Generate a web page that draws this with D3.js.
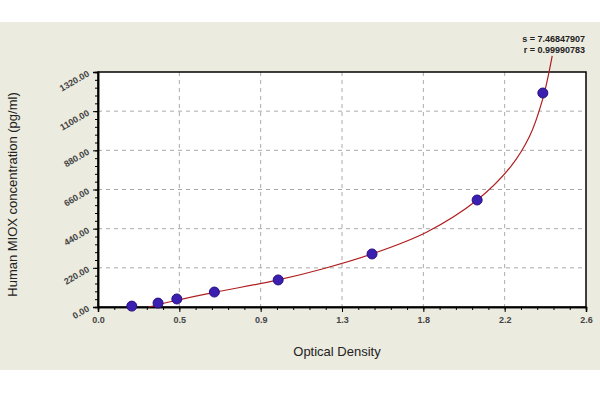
<!DOCTYPE html>
<html><head><meta charset="utf-8">
<script src="https://cdn.jsdelivr.net/npm/d3@7"></script>
<style>body{margin:0;background:#fff}</style>
</head><body>
<div id="chart"></div>
<script>
// Measured standard points (OD, pg/ml)
const od = [0.18, 0.32, 0.42, 0.62, 0.96, 1.46, 2.02, 2.37];
const conc = [5, 22, 45, 84, 152, 298, 601, 1202];
// Fitted curve
const curveOd = [0.27, 0.42, 0.62, 0.96, 1.2, 1.46, 1.75, 2.02, 2.2, 2.3, 2.37, 2.42];
const curveConc = [0, 38, 82, 152, 215, 298, 420, 601, 790, 960, 1170, 1410];
const xTicks = [0, 2.6 / 6, 2 * 2.6 / 6, 3 * 2.6 / 6, 4 * 2.6 / 6, 5 * 2.6 / 6, 2.6];
const xTickLabels = ["0.0", "0.5", "0.9", "1.3", "1.8", "2.2", "2.6"];
const yTicks = [0, 220, 440, 660, 880, 1100, 1320];
const statLines = ["s = 7.46847907", "r = 0.99990783"];

const w = 600, h = 400;
const mLeft = 98, mRight = 586, mTop = 72, mBottom = 307;

const svg = d3.select("#chart").append("svg").attr("width", w).attr("height", h);
svg.append("rect").attr("x", 0).attr("y", 22).attr("width", w).attr("height", 348).attr("fill", "#ecebdf");

const x = d3.scaleLinear().domain([0, 2.6]).range([mLeft, mRight]);
const y = d3.scaleLinear().domain([0, 1320]).range([mBottom, mTop]);

svg.append("rect").attr("x", mLeft).attr("y", mTop).attr("width", mRight - mLeft).attr("height", mBottom - mTop)
  .attr("fill", "#fff");

// grid
svg.append("g").selectAll("line").data(xTicks.slice(1, -1)).join("line")
  .attr("x1", d => x(d)).attr("x2", d => x(d)).attr("y1", mTop).attr("y2", mBottom)
  .attr("stroke", "#aaa").attr("stroke-dasharray", "4,4");
svg.append("g").selectAll("line").data(yTicks.slice(1, -1)).join("line")
  .attr("x1", mLeft).attr("x2", mRight).attr("y1", d => y(d)).attr("y2", d => y(d))
  .attr("stroke", "#aaa").attr("stroke-dasharray", "4,4");

// axes
const xAxis = svg.append("g").attr("transform", `translate(0,${mBottom})`)
  .call(d3.axisBottom(x).tickValues(xTicks).tickFormat((d, i) => xTickLabels[i]).tickSize(5));
svg.append("g").attr("transform", `translate(0,${mBottom})`)
  .call(d3.axisBottom(x).tickValues(d3.range(0, 31).map(i => i * 2.6 / 30)).tickFormat("").tickSize(3));
const yAxis = svg.append("g").attr("transform", `translate(${mLeft},0)`)
  .call(d3.axisLeft(y).tickValues(yTicks).tickFormat(d3.format(".2f")).tickSize(5));
svg.append("g").attr("transform", `translate(${mLeft},0)`)
  .call(d3.axisLeft(y).tickValues(d3.range(0, 31).map(i => i * 44)).tickFormat("").tickSize(3));
svg.selectAll(".domain").attr("stroke", "#000").attr("stroke-width", 1.5);
xAxis.selectAll("text").attr("font-family", "Arial, Liberation Sans").attr("font-size", 9).attr("font-weight", "bold").attr("fill", "#444").attr("dy", "0.9em");
yAxis.selectAll("text").attr("font-family", "Arial, Liberation Sans").attr("font-size", 9).attr("font-weight", "bold").attr("fill", "#444")
  .attr("x", null).attr("dy", null).attr("text-anchor", "end")
  .attr("transform", "translate(-8,3) rotate(-30)");

// frame
svg.append("rect").attr("x", mLeft).attr("y", mTop).attr("width", mRight - mLeft).attr("height", mBottom - mTop)
  .attr("fill", "none").attr("stroke", "#000").attr("stroke-width", 1.5);

// curve
const curveData = curveOd.map((d, i) => [d, curveConc[i]]);
svg.append("path").datum(curveData)
  .attr("d", d3.line().x(d => x(d[0])).y(d => y(d[1])).curve(d3.curveCatmullRom))
  .attr("fill", "none").attr("stroke", "#b02020").attr("stroke-width", 1.2);

// points
svg.append("g").selectAll("circle").data(od).join("circle")
  .attr("cx", d => x(d)).attr("cy", (d, i) => y(conc[i])).attr("r", 5)
  .attr("fill", "#3a1fb0").attr("stroke", "#2a1080");

// labels
svg.append("text").attr("x", (mLeft + mRight) / 2 - 5).attr("y", 356).attr("text-anchor", "middle")
  .attr("font-family", "Arial, Liberation Sans").attr("font-size", 13).attr("fill", "#222").text("Optical Density");
svg.append("text").attr("transform", `translate(17,${(mTop + mBottom) / 2 + 5}) rotate(-90)`).attr("text-anchor", "middle")
  .attr("font-family", "Arial, Liberation Sans").attr("font-size", 13).attr("fill", "#222")
  .text("Human MIOX concentration (pg/ml)");
svg.append("g").selectAll("text").data(statLines).join("text")
  .attr("x", 585).attr("y", (d, i) => 42 + i * 11).attr("text-anchor", "end")
  .attr("font-family", "Arial, Liberation Sans").attr("font-size", 9).attr("font-weight", "bold").attr("fill", "#222")
  .text(d => d);
</script>
</body></html>
